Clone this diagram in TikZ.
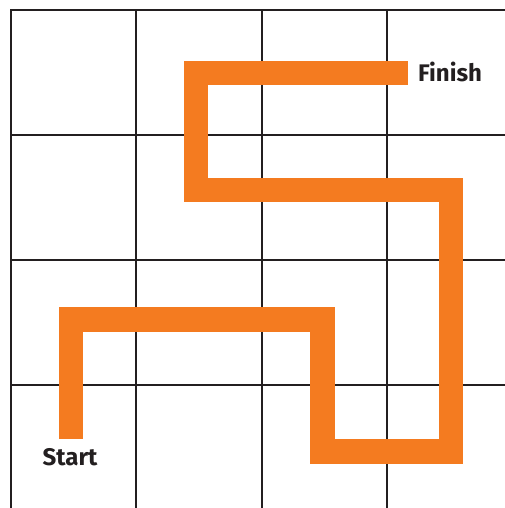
\documentclass[tikz,border=0pt]{standalone}
\usepackage{fontspec}
\setmainfont{Fira Sans}
\usepackage{xcolor}
\usetikzlibrary{positioning}

\definecolor{routeorange}{RGB}{244,123,32}
\definecolor{gridink}{RGB}{35,31,32}

\begin{document}
\begin{tikzpicture}[
  x=1pt, y=-1pt,
  gridline/.style={draw=gridink, line width=2pt},
  route/.style={draw=routeorange, line width=24.5pt, line join=miter, line cap=butt},
  endlabel/.style={inner sep=0pt, anchor=base west, text=gridink, font=\fontsize{24}{29}\selectfont\bfseries}
]
  \useasboundingbox (0,0) rectangle (504,508);

  % grid
  \foreach \gx in {11,136.3,261.7,387} {
    \draw[gridline] (\gx,10) -- (\gx,520);
  }
  \foreach \gy in {10,135,260,385} {
    \draw[gridline] (10,\gy) -- (520,\gy);
  }

  % route corners
  \coordinate (p0) at (71,438.5);
  \coordinate (p1) at (71,319.3);
  \coordinate (p2) at (322.3,319.3);
  \coordinate (p3) at (322.3,451.3);
  \coordinate (p4) at (451,451.3);
  \coordinate (p5) at (451,190);
  \coordinate (p6) at (195.8,190);
  \coordinate (p7) at (195.8,73);
  \coordinate (p8) at (407.7,73);

  \node[endlabel] (start) at (42.5,465.7) {Start};
  \node[endlabel] (finish) at (418,81.7) {Finish};

  \draw[route] (p0) -- (p1) -- (p2) -- (p3) -- (p4) -- (p5) -- (p6) -- (p7) -- (p8);
\end{tikzpicture}
\end{document}
